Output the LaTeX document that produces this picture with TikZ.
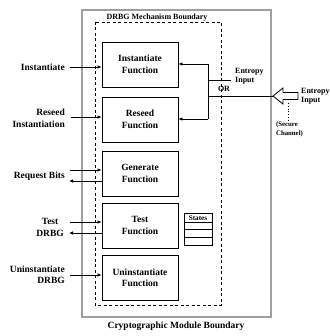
\documentclass[tikz,border=0pt]{standalone}
\usepackage{fontspec}
\setmainfont{Liberation Serif}
\usetikzlibrary{arrows.meta}
\tikzset{
  txt/.style={font=\bfseries\fontsize{9.5}{11.5}\selectfont, inner sep=0pt},
  small/.style={font=\bfseries\fontsize{8}{9}\selectfont, inner sep=0pt},
  tiny/.style={font=\bfseries\fontsize{6.8}{8.5}\selectfont, inner sep=0pt},
  fnbox/.style={draw, line width=0.8pt, minimum width=76pt, minimum height=45pt,
                align=center, txt},
  arr/.style={line width=0.8pt, -{Latex[length=4pt,width=3.5pt]}},
  wire/.style={line width=0.8pt},
  module/.style={draw=gray!75, line width=1.8pt},
  mech/.style={line width=0.8pt, dash pattern=on 3pt off 2.5pt},
}
\begin{document}
\begin{tikzpicture}[x=1pt,y=-1pt]
  \fill[white] (0,0) rectangle (329,336);
  \useasboundingbox (0,0) rectangle (329,336);

  % cryptographic module boundary
  \draw[module] (82,10) rectangle (271,317);
  \node[txt, anchor=base] (modlbl) at (176,328.5) {Cryptographic Module Boundary};

  % DRBG mechanism boundary
  \draw[mech] (95,22) rectangle (221,305);
  \node[small, anchor=base] (mechlbl) at (157,20) {DRBG Mechanism Boundary};

  % functions
  \node[fnbox] (inst)   at (140,64.5)  {Instantiate\\Function};
  \node[fnbox] (reseed) at (140,119.5) {Reseed\\Function};
  \node[fnbox] (gen)    at (140,173.5) {Generate\\Function};
  \node[fnbox] (test)   at (140,225.5) {Test\\Function};
  \node[fnbox] (unin)   at (140,278)   {Uninstantiate\\Function};

  % internal state table
  \draw[wire] (184,213) rectangle (212,245);
  \draw[wire] (184,222) -- (212,222);
  \draw[wire] (184,229.5) -- (212,229.5);
  \draw[wire] (184,237) -- (212,237);
  \node[font=\bfseries\fontsize{7.2}{8}\selectfont, inner sep=0pt] (states) at (198,217.8) {States};

  % external requests
  \node[txt, anchor=east] (lInst) at (65,67) {Instantiate};
  \node[txt, anchor=east, align=right] (lRes) at (65,118.5) {Reseed\\Instantiation};
  \node[txt, anchor=east] (lReq) at (65,176) {Request Bits};
  \node[txt, anchor=east, align=center] (lTest) at (64,227.5) {Test\\DRBG};
  \node[txt, anchor=east, align=right] (lUnin) at (65,274.5) {Uninstantiate\\DRBG};

  \coordinate (cInst) at (70,67);
  \coordinate (cRes)  at (71,117);
  \coordinate (cReqI) at (70,170);
  \coordinate (cReqO) at (69,181);
  \coordinate (cTstI) at (70,222);
  \coordinate (cTstO) at (69,233);
  \coordinate (cUnin) at (70,275);

  \draw[arr] (cInst) -- (cInst -| inst.west);
  \draw[arr] (cRes)  -- (cRes -| reseed.west);
  \draw[arr] (cReqI) -- (cReqI -| gen.west);
  \draw[arr] (cReqO -| gen.west) -- (cReqO);
  \draw[arr] (cTstI) -- (cTstI -| test.west);
  \draw[arr] (cTstO -| test.west) -- (cTstO);
  \draw[arr] (cUnin) -- (cUnin -| unin.west);

  % entropy input paths
  \coordinate (jTop) at (208,64);
  \coordinate (jBot) at (208,119);
  \coordinate (jA)   at (208,80);
  \coordinate (jAend) at (231,80);
  \coordinate (jB)   at (208,96);
  \coordinate (tip)  at (273,96);

  \draw[wire] (jTop) -- (jBot);
  \draw[arr] (jTop) -- (jTop -| inst.east);
  \draw[arr] (jBot) -- (jBot -| reseed.east);
  \draw[wire] (jA) -- (jAend);
  \draw[wire] (jB) -- (tip);

  \node[small, anchor=west, align=left] (entIn) at (235,76.5) {Entropy\\Input};
  \node[small] (or) at (224,88.5) {OR};

  % external entropy source (hollow arrow)
  \draw[line width=0.8pt, fill=white] (tip) -- (283,88) -- (283,92.5) -- (298,92.5)
        -- (298,99.5) -- (283,99.5) -- (283,104) -- cycle;
  \node[small, anchor=west, align=left] (entEx) at (301,96.5) {Entropy\\Input};

  \coordinate (chTop) at (288,103);
  \coordinate (chBot) at (288,121);
  \draw[line width=0.8pt, dotted] (chTop) -- (chBot);
  \node[tiny, align=left] (chan) at (289.5,129.5) {(Secure\\Channel)};
\end{tikzpicture}
\end{document}
